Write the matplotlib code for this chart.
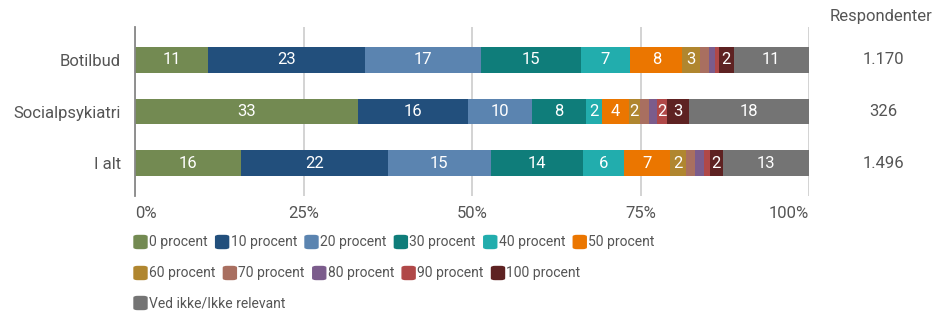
import matplotlib.pyplot as plt
from matplotlib.patches import FancyBboxPatch

plt.rcParams['font.family'] = ['Roboto', 'DejaVu Sans']

groups = ['Botilbud', 'Socialpsykiatri', 'I alt']
respondents = ['1.170', '326', '1.496']
series = ['0 procent', '10 procent', '20 procent', '30 procent', '40 procent',
          '50 procent', '60 procent', '70 procent', '80 procent', '90 procent',
          '100 procent', 'Ved ikke/Ikke relevant']
colors = ['#738a52', '#224f7c', '#5b84b0', '#0f7d7a', '#22adad', '#eb7600',
          '#b0862f', '#a96f60', '#7b5c8c', '#b04848', '#5e2222', '#747474']

# percentages per series, order: Botilbud, Socialpsykiatri, I alt
values = [
    [10.8, 33.1, 15.7],
    [23.3, 16.3, 21.8],
    [17.2, 9.5, 15.3],
    [14.8, 8.0, 13.6],
    [7.4, 2.4, 6.2],
    [7.7, 4.0, 6.8],
    [2.7, 1.6, 2.4],
    [1.2, 1.3, 1.3],
    [1.0, 1.2, 1.3],
    [0.5, 1.5, 0.9],
    [2.2, 3.3, 1.9],
    [11.2, 17.8, 12.8],
]

fig = plt.figure(figsize=(9.33, 3.13), dpi=100)
ax = fig.add_axes([135 / 933, 1 - 196 / 313, 674 / 933, 169 / 313])

y = list(range(len(groups)))
left = [0.0] * len(groups)
for name, vals, col in zip(series, values, colors):
    ax.barh(y, vals, left=left, height=0.5, color=col, zorder=2)
    for i, v in enumerate(vals):
        if round(v) >= 2:
            ax.text(left[i] + v / 2, i, str(round(v)), ha='center', va='center',
                    color='white', fontsize=12, zorder=3)
    left = [a + b for a, b in zip(left, vals)]

ax.set_xlim(0, 100)
ax.set_ylim(2.64, -0.64)
ax.set_xticks([0, 25, 50, 75, 100])
ax.set_xticklabels(['0%', '25%', '50%', '75%', '100%'])
ax.set_yticks(y)
ax.set_yticklabels(groups)
ax.tick_params(length=0, labelsize=12, labelcolor='#555555')
ax.tick_params(axis='x', pad=7)
ax.tick_params(axis='y', pad=10)
xl = ax.get_xticklabels()
xl[0].set_ha('left')
xl[-1].set_ha('right')
ax.grid(axis='x', color='#d0d0d0', linewidth=1.3, zorder=0)
for s in ['top', 'right', 'bottom']:
    ax.spines[s].set_visible(False)
ax.spines['left'].set_color('#888888')
ax.spines['left'].set_linewidth(1.3)
ax.spines['left'].set_zorder(4)

# respondent column
fig.text(830 / 933, 1 - 17 / 313, 'Respondenter', ha='left', va='center',
         fontsize=12, color='#555555')
for i, r in enumerate(respondents):
    ax.text(1.11, i, r, transform=ax.get_yaxis_transform(), ha='center',
            va='center', fontsize=12, color='#555555')

# legend drawn as flowing rows
rows = [range(0, 6), range(6, 11), range(11, 12)]
row_y = [242, 273, 303]
fig.canvas.draw()
renderer = fig.canvas.get_renderer()
for idx, ry in zip(rows, row_y):
    x = 134
    for k in idx:
        sq = FancyBboxPatch((x / 933, 1 - (ry + 6.5) / 313), 13 / 933, 13 / 313,
                            boxstyle='round,pad=0,rounding_size=0.004',
                            transform=fig.transFigure, color=colors[k])
        fig.patches.append(sq)
        t = fig.text((x + 15) / 933, 1 - ry / 313, series[k], ha='left',
                     va='center', fontsize=10, color='#555555')
        bb = t.get_window_extent(renderer)
        x = bb.x1 + 8

fig.savefig('out.png', dpi=100)
